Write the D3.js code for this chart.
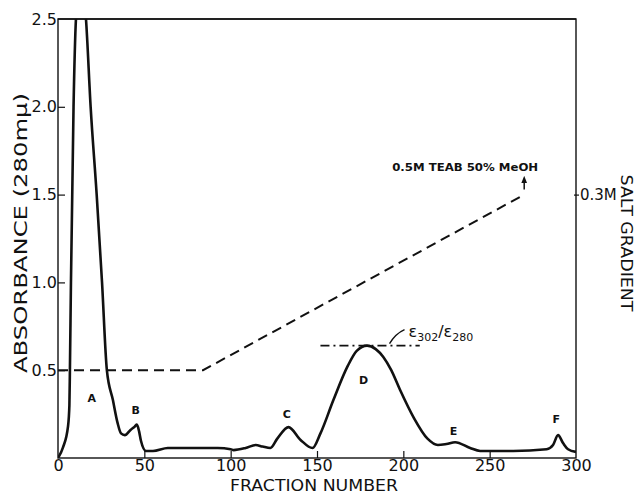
<!DOCTYPE html>
<html>
<head>
<meta charset="utf-8">
<script src="https://cdn.jsdelivr.net/npm/d3@7/dist/d3.min.js"></script>
<style>
  html, body { margin: 0; padding: 0; background: #fff; }
  svg { display: block; }
  text { font-family: "DejaVu Sans", sans-serif; fill: #111; }
</style>
</head>
<body>
<svg id="chart" width="637" height="495"></svg>
<script>
// Elution profile: absorbance at 280 mμ against fraction number
const fractions = [0, 2.9, 5.8, 6.6, 6.9, 7.5, 9, 10.4, 13, 16.2, 18.9, 22.4, 25.5, 28.3, 31.8, 34.5,
  36.5, 38.7, 42, 44.5, 45.7, 47, 48, 51, 55, 63.6, 80, 92.5, 100, 101.7, 108.7, 114.5, 118.5, 123,
  127, 133.5, 140.5, 147.4, 152, 159.5, 167.6, 173, 179, 184, 188.4, 193, 198, 206, 214, 220, 225,
  230, 238.7, 244.5, 263.6, 283, 286.7, 289.6, 292.5, 295.4, 300];
const absorbance = [0, 0.06, 0.18, 0.3, 0.5, 1.0, 2.0, 2.5, 2.75, 2.5, 2.0, 1.5, 1.0, 0.5, 0.33, 0.2,
  0.14, 0.13, 0.16, 0.18, 0.19, 0.15, 0.1, 0.04, 0.04, 0.057, 0.057, 0.057, 0.05, 0.045, 0.057, 0.074, 0.065, 0.057,
  0.11, 0.176, 0.103, 0.057, 0.14, 0.33, 0.52, 0.61, 0.64, 0.62, 0.575, 0.5, 0.39, 0.23, 0.11, 0.074, 0.08,
  0.09, 0.057, 0.04, 0.04, 0.05, 0.074, 0.13, 0.085, 0.05, 0.035];

// Salt gradient (drawn on the absorbance scale; 0 M at 0.5, 0.3 M at 1.5)
const gradientFractions = [0, 84, 270];
const gradientAbsorbance = [0.5, 0.5, 1.5];
const saltTicks = [0.3];

// Peak labels
const peakNames = ["A", "B", "C", "D", "E", "F"];
const peakFractions = [19.5, 45, 132.5, 177, 229, 288.5];
const peakLabelAbs = [0.32, 0.25, 0.23, 0.42, 0.13, 0.2];

const xTicks = [0, 50, 100, 150, 200, 250, 300];
const yTicks = [0.5, 1.0, 1.5, 2.0, 2.5];

// ε302/ε280 reference level across peak D
const ratioLevel = 0.64;
const ratioRange = [152, 209.5];

const svg = d3.select("#chart");
const plotLeft = 58, plotRight = 576, plotTop = 19, plotBottom = 458;

const x = d3.scaleLinear().domain([0, 300]).range([plotLeft, plotRight]);
const y = d3.scaleLinear().domain([0, 2.5]).range([plotBottom, plotTop]);
const salt = d3.scaleLinear().domain([0, 0.3]).range([y(0.5), y(1.5)]);

const defs = svg.append("defs");
defs.append("clipPath").attr("id", "plotClip")
  .append("rect").attr("x", plotLeft).attr("y", plotTop)
  .attr("width", plotRight - plotLeft).attr("height", plotBottom - plotTop);

// Frame
svg.append("rect").attr("x", plotLeft).attr("y", plotTop)
  .attr("width", plotRight - plotLeft).attr("height", plotBottom - plotTop)
  .attr("fill", "none").attr("stroke", "#111").attr("stroke-width", 1.4);

// Bottom axis: ticks pointing into the plot
const xAxis = d3.axisBottom(x).tickValues(xTicks).tickSizeInner(-7).tickSizeOuter(0)
  .tickPadding(2).tickFormat(d3.format("d"));
const gx = svg.append("g").attr("transform", `translate(0,${plotBottom})`).call(xAxis);
gx.select(".domain").remove();
gx.selectAll("line").attr("stroke", "#111").attr("stroke-width", 1.2);
gx.selectAll("text").attr("font-size", 16).attr("fill", "#111");
gx.selectAll(".tick").filter(d => d === 0 || d === 300).select("line").remove();

// Left axis
const yAxis = d3.axisLeft(y).tickValues(yTicks).tickSizeInner(-7).tickSizeOuter(0)
  .tickPadding(1).tickFormat(d3.format(".1f"));
const gy = svg.append("g").attr("transform", `translate(${plotLeft},0)`).call(yAxis);
gy.select(".domain").remove();
gy.selectAll("line").attr("stroke", "#111").attr("stroke-width", 1.2);
gy.selectAll("text").attr("font-size", 16).attr("fill", "#111");
gy.selectAll(".tick").filter(d => d === 2.5).select("line").remove();

// Right axis (salt concentration)
const saltAxis = d3.axisRight(salt).tickValues(saltTicks).tickSizeInner(5).tickSizeOuter(0)
  .tickFormat(d => d3.format(".1f")(d) + "M");
const gs = svg.append("g").attr("transform", `translate(${plotRight - 2},0)`).call(saltAxis);
gs.select(".domain").remove();
gs.selectAll("line").attr("stroke", "#111").attr("stroke-width", 1.2);
gs.selectAll("text").attr("font-size", 15).attr("fill", "#111").attr("x", 6);

// Axis titles
svg.append("text").attr("x", (plotLeft + plotRight) / 2 - 3).attr("y", 491)
  .attr("text-anchor", "middle").attr("font-size", 16)
  .attr("textLength", 168).attr("lengthAdjust", "spacingAndGlyphs")
  .text("FRACTION NUMBER");

svg.append("text").attr("transform", "translate(27,233) rotate(-90)")
  .attr("text-anchor", "middle").attr("font-size", 17)
  .attr("textLength", 280).attr("lengthAdjust", "spacingAndGlyphs")
  .text("ABSORBANCE (280mμ)");

svg.append("text").attr("transform", "translate(621,243) rotate(90)")
  .attr("text-anchor", "middle").attr("font-size", 16)
  .attr("textLength", 137).attr("lengthAdjust", "spacingAndGlyphs")
  .text("SALT GRADIENT");

const plot = svg.append("g").attr("clip-path", "url(#plotClip)");

// Salt gradient
const gradLine = d3.line().x(d => x(d[0])).y(d => y(d[1]));
plot.append("path")
  .datum(d3.zip(gradientFractions, gradientAbsorbance))
  .attr("d", gradLine)
  .attr("fill", "none").attr("stroke", "#111").attr("stroke-width", 2)
  .attr("stroke-dasharray", "10,6");

// Absorbance profile
const profile = d3.line().x(d => x(d[0])).y(d => y(d[1])).curve(d3.curveMonotoneX);
plot.append("path")
  .datum(d3.zip(fractions, absorbance))
  .attr("d", profile)
  .attr("fill", "none").attr("stroke", "#111").attr("stroke-width", 2.6)
  .attr("stroke-linejoin", "round");

// Re-draw the top edge over the clipped peak
svg.append("line").attr("x1", plotLeft).attr("x2", plotRight).attr("y1", plotTop).attr("y2", plotTop)
  .attr("stroke", "#111").attr("stroke-width", 1.6);

// Peak labels
svg.append("g").selectAll("text").data(peakNames).join("text")
  .attr("x", (d, i) => x(peakFractions[i]))
  .attr("y", (d, i) => y(peakLabelAbs[i]))
  .attr("text-anchor", "middle").attr("font-size", 11).attr("font-weight", "bold")
  .text(d => d);

// ε302/ε280 level line
svg.append("line")
  .attr("x1", x(ratioRange[0])).attr("x2", x(ratioRange[1]))
  .attr("y1", y(ratioLevel)).attr("y2", y(ratioLevel))
  .attr("stroke", "#111").attr("stroke-width", 1.6)
  .attr("stroke-dasharray", "9,4,2,4");

const ratioX = x(192), ratioY = y(ratioLevel);
svg.append("path")
  .attr("d", `M${ratioX},${ratioY - 2} Q${ratioX + 6},${ratioY - 12} ${ratioX + 15},${ratioY - 16}`)
  .attr("fill", "none").attr("stroke", "#111").attr("stroke-width", 1.4);

const ratioText = svg.append("text").attr("x", ratioX + 19).attr("y", ratioY - 9)
  .attr("font-size", 16);
ratioText.append("tspan").text("ε");
ratioText.append("tspan").attr("font-size", 11).attr("dy", 4).text("302");
ratioText.append("tspan").attr("dy", -4).text("/ε");
ratioText.append("tspan").attr("font-size", 11).attr("dy", 4).text("280");

// End of gradient: arrow and eluent note
const endX = x(gradientFractions[2]), endY = y(gradientAbsorbance[2]);
defs.append("marker").attr("id", "arrowHead")
  .attr("viewBox", "0 0 10 10").attr("refX", 5).attr("refY", 5)
  .attr("markerWidth", 5).attr("markerHeight", 5).attr("orient", "auto")
  .append("path").attr("d", "M0,1 L10,5 L0,9 Z").attr("fill", "#111");
svg.append("line").attr("x1", endX).attr("x2", endX)
  .attr("y1", endY - 5).attr("y2", endY - 15)
  .attr("stroke", "#111").attr("stroke-width", 1.5)
  .attr("marker-end", "url(#arrowHead)");

svg.append("text").attr("x", endX + 14).attr("y", endY - 24)
  .attr("text-anchor", "end").attr("font-size", 11).attr("font-weight", "bold")
  .attr("textLength", 146).attr("lengthAdjust", "spacingAndGlyphs")
  .text("0.5M TEAB 50% MeOH");
</script>
</body>
</html>
